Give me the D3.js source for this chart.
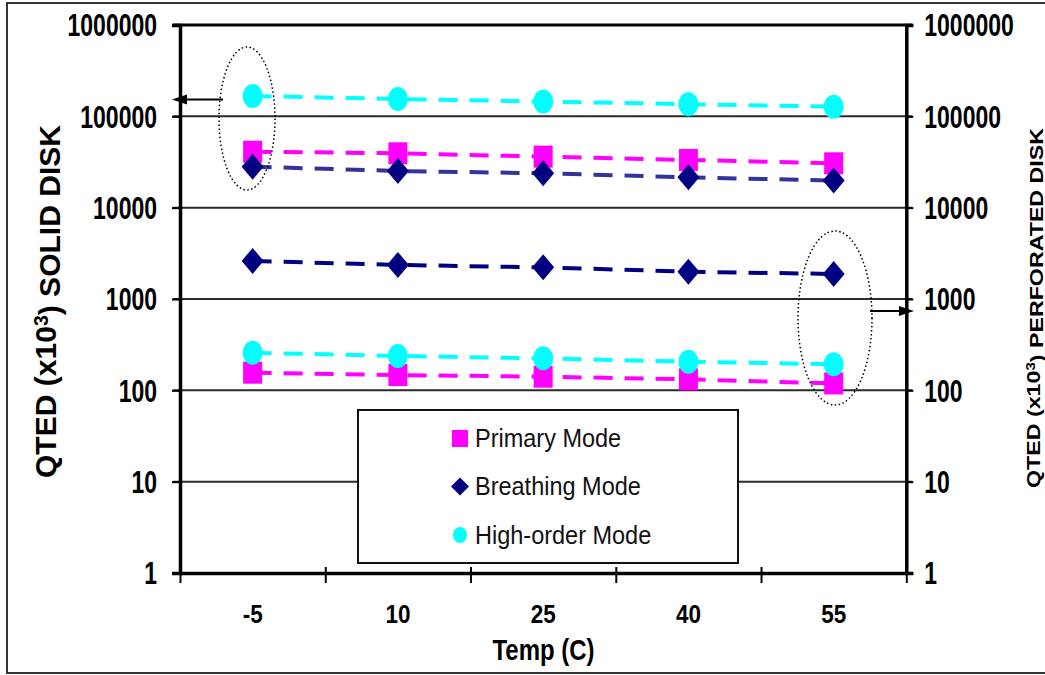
<!DOCTYPE html>
<html>
<head>
<meta charset="utf-8">
<script src="https://cdn.jsdelivr.net/npm/d3@7"></script>
<style>
  body { margin: 0; background: #fff; }
  text { font-family: Arial, "Liberation Sans", sans-serif; }
</style>
</head>
<body>
<script>
// temperatures (C) and QTED values (x10^3)
var temps = [-5, 10, 25, 40, 55];
var primarySolid = [41000, 39400, 36200, 33300, 30600];
var breathingSolid = [28100, 25200, 23800, 21500, 19800];
var highSolid = [167000, 155000, 145000, 136000, 127600];
var primaryPerf = [156, 147, 141, 132, 119];
var breathingPerf = [2610, 2360, 2220, 1990, 1880];
var highPerf = [258, 238, 224, 206, 193];
var yTicks = [1, 10, 100, 1000, 10000, 100000, 1000000];
var legendNames = ["Primary Mode", "Breathing Mode", "High-order Mode"];

var width = 1045, height = 675;
var plotL = 180, plotR = 906.3, plotT = 25, plotB = 573;

var svg = d3.select("body").append("svg")
    .attr("width", width)
    .attr("height", height)

// outer frame
svg.append("rect")
    .attr("x", 7).attr("y", 3)
    .attr("width", 1050).attr("height", 670)
    .attr("fill", "none")
    .attr("stroke", "#333")
    .attr("stroke-width", 2)

var x = d3.scaleBand().domain(temps).range([plotL, plotR])
var xb = d3.scaleLinear().domain([0, temps.length]).range([plotL, plotR])
var y = d3.scaleLog().domain([1, 1000000]).range([plotB, plotT])
var bw = x.bandwidth()

// gridlines
svg.append("g")
  .selectAll("line")
  .data(yTicks)
  .enter().append("line")
    .attr("x1", plotL - 7).attr("x2", plotR + 6)
    .attr("y1", function(d) { return y(d) })
    .attr("y2", function(d) { return y(d) })
    .attr("stroke", function(d) { return d == 1000000 ? "#000" : "#2a2a2a" })
    .attr("stroke-width", function(d) { return d == 1000000 ? 3 : 2 })

// left axis
var yLeft = svg.append("g")
    .attr("transform", "translate(" + plotL + ",0)")
    .call(d3.axisLeft(y).tickValues(yTicks).tickFormat(d3.format("d")).tickSize(8).tickPadding(15))
yLeft.select(".domain").attr("stroke-width", 3.5)
yLeft.selectAll(".tick line").attr("stroke-width", 2)

// right axis
var yRight = svg.append("g")
    .attr("transform", "translate(" + plotR + ",0)")
    .call(d3.axisRight(y).tickValues(yTicks).tickFormat(d3.format("d")).tickSize(7).tickPadding(11))
yRight.select(".domain").attr("stroke-width", 3.5)
yRight.selectAll(".tick line").attr("stroke-width", 2)

svg.selectAll(".tick text")
    .attr("dy", "0.358em")
    .attr("transform", "scale(1,1.33)")
    .style("font-size", "23px")
    .style("font-weight", "bold")
    .attr("fill", "#000")
svg.selectAll(".domain").attr("stroke", "#000")

// bottom axis, ticks at category boundaries
var xAxis = svg.append("g")
    .attr("transform", "translate(0," + plotB + ")")
    .call(d3.axisBottom(xb).ticks(temps.length).tickFormat("").tickSizeOuter(0))
xAxis.select(".domain").attr("stroke-width", 3.5).attr("stroke", "#000")
xAxis.selectAll(".tick line")
    .attr("y1", -6).attr("y2", 10)
    .attr("stroke-width", 2)

svg.append("g")
  .selectAll("text")
  .data(temps)
  .enter().append("text")
    .attr("transform", function(d) { return "translate(" + (x(d) + bw / 2) + ",623) scale(1,1.12)" })
    .attr("text-anchor", "middle")
    .style("font-size", "22.5px")
    .style("font-weight", "bold")
    .text(function(d) { return d })

svg.append("text")
    .attr("transform", "translate(543.5,660) scale(1,1.24)")
    .attr("text-anchor", "middle")
    .style("font-size", "24px")
    .style("font-weight", "bold")
    .text("Temp (C)")

// axis titles
function yTitle(tx, ty, size, len, before, after) {
  var t = svg.append("text")
      .attr("transform", "translate(" + tx + "," + ty + ") rotate(-90)")
      .attr("text-anchor", "middle")
      .attr("textLength", len)
      .attr("lengthAdjust", "spacingAndGlyphs")
      .style("font-size", size + "px")
      .style("font-weight", "bold")
  t.append("tspan").text(before)
  t.append("tspan").attr("dy", "-0.4em").style("font-size", "65%").text("3")
  t.append("tspan").attr("dy", "0.4em").text(after)
}
yTitle(56, 301.5, 30, 353, "QTED  (x10", ") SOLID DISK")
yTitle(1040, 308, 19, 360, "QTED (x10", ") PERFORATED DISK")

// series
var series = [
  { values: primarySolid, color: "#ff00ff", line: "#ff00ff", shape: "square" },
  { values: breathingSolid, color: "#000080", line: "#333399", shape: "diamond" },
  { values: highSolid, color: "#00ffff", line: "#00ffff", shape: "circle" },
  { values: primaryPerf, color: "#ff00ff", line: "#ff00ff", shape: "square" },
  { values: breathingPerf, color: "#000080", line: "#000080", shape: "diamond" },
  { values: highPerf, color: "#00ffff", line: "#00ffff", shape: "circle" }
]

var line = d3.line()
    .x(function(d, i) { return x(temps[i]) + bw / 2 })
    .y(function(d) { return y(d) })

function drawMarker(g, shape, color, cx, cy) {
  if (shape == "square") {
    g.append("rect")
        .attr("x", cx - 9.5).attr("y", cy - 11)
        .attr("width", 19).attr("height", 22)
        .attr("fill", color)
  } else if (shape == "diamond") {
    g.append("path")
        .attr("d", "M" + cx + "," + (cy - 13) + "L" + (cx + 11) + "," + cy + "L" + cx + "," + (cy + 13) + "L" + (cx - 11) + "," + cy + "Z")
        .attr("fill", color)
  } else {
    g.append("ellipse")
        .attr("cx", cx).attr("cy", cy)
        .attr("rx", 10).attr("ry", 12)
        .attr("fill", color)
  }
}

var marks = svg.append("g")
series.forEach(function(s) {
  marks.append("path")
      .datum(s.values)
      .attr("d", line)
      .attr("fill", "none")
      .attr("stroke", s.line)
      .attr("stroke-width", 4)
      .attr("stroke-dasharray", "19,12")
  s.values.forEach(function(v, i) {
    drawMarker(marks, s.shape, s.color, x(temps[i]) + bw / 2, y(v))
  })
})

// legend
svg.append("rect")
    .attr("x", 358).attr("y", 410)
    .attr("width", 380).attr("height", 153)
    .attr("fill", "#fff")
    .attr("stroke", "#111")
    .attr("stroke-width", 2)

var legendColors = ["#ff00ff", "#000080", "#00ffff"]
legendNames.forEach(function(name, i) {
  var ly = 438 + i * 48.5
  if (i == 0) {
    svg.append("rect").attr("x", 452).attr("y", ly - 8).attr("width", 16).attr("height", 17).attr("fill", legendColors[i])
  } else if (i == 1) {
    svg.append("path")
        .attr("d", "M460," + (ly - 9) + "L469," + ly + "L460," + (ly + 9) + "L451," + ly + "Z")
        .attr("fill", legendColors[i])
  } else {
    svg.append("ellipse").attr("cx", 460).attr("cy", ly).attr("rx", 7).attr("ry", 8).attr("fill", legendColors[i])
  }
  svg.append("text")
      .attr("transform", "translate(475," + (ly + 8.5) + ") scale(1,1.06)")
      .style("font-size", "23.5px")
      .attr("fill", "#111")
      .text(name)
})

// annotations: dotted ellipses and arrows
svg.append("ellipse")
    .attr("cx", 247).attr("cy", 118.5)
    .attr("rx", 28).attr("ry", 71.5)
    .attr("fill", "none").attr("stroke", "#000")
    .attr("stroke-width", 1.5).attr("stroke-dasharray", "1.5,2.5")
svg.append("ellipse")
    .attr("cx", 835).attr("cy", 318)
    .attr("rx", 37).attr("ry", 87)
    .attr("fill", "none").attr("stroke", "#000")
    .attr("stroke-width", 1.5).attr("stroke-dasharray", "1.5,2.5")

svg.append("line")
    .attr("x1", 223).attr("y1", 99.5).attr("x2", 185).attr("y2", 99.5)
    .attr("stroke", "#000").attr("stroke-width", 2)
svg.append("path")
    .attr("d", "M172,99.5L187,94.5L187,104.5Z")
    .attr("fill", "#000")

svg.append("line")
    .attr("x1", 870).attr("y1", 311).attr("x2", 900).attr("y2", 311)
    .attr("stroke", "#000").attr("stroke-width", 2)
svg.append("path")
    .attr("d", "M914,311L899,306L899,316Z")
    .attr("fill", "#000")
</script>
</body>
</html>
